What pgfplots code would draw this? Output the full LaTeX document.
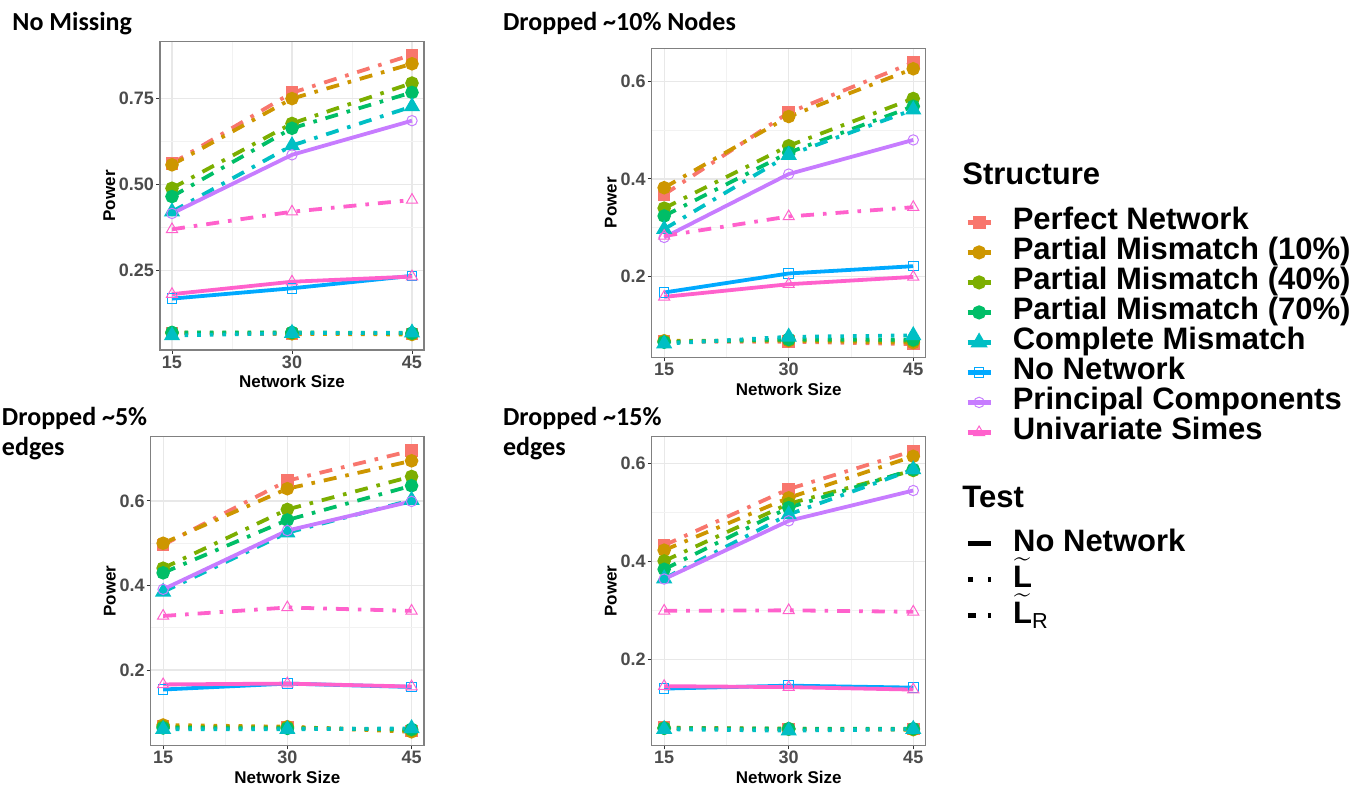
\documentclass[border=0pt]{standalone}
\usepackage{pgfplots}
\pgfplotsset{compat=1.18}
\usepackage{amsmath}
\usepackage{fontspec}
\setmainfont{Liberation Sans}
\newfontfamily\titlefont{Carlito}

\definecolor{cPN}{HTML}{F8766D}
\definecolor{cPA}{HTML}{CD9600}
\definecolor{cPB}{HTML}{7CAE00}
\definecolor{cPC7}{HTML}{00BE67}
\definecolor{cCM}{HTML}{00BFC4}
\definecolor{cNN}{HTML}{00A9FF}
\definecolor{cPCA}{HTML}{C77CFF}
\definecolor{cUS}{HTML}{FF61CC}

\pgfplotsset{
  panel/.style={
    scale only axis, anchor=north west,
    xmin=13.5, xmax=46.5,
    xtick={15,30,45}, xticklabels={15,30,45},
    minor x tick num=1, minor y tick num=1,
    grid=both,
    major grid style={color=black!9, line width=0.6pt},
    minor grid style={color=black!5, line width=0.4pt},
    axis line style={black!50, line width=0.6pt},
    tick align=outside, tick pos=left,
    major tick length=2pt, minor tick length=0pt,
    tick style={black!80, line width=0.5pt},
    tick label style={font=\fontsize{9}{10}\selectfont\bfseries, text=black!70},
    xticklabel style={yshift=2.5pt},
    yticklabel style={xshift=2.5pt},
    label style={font=\fontsize{8.5}{10}\selectfont\bfseries},
    xlabel style={yshift=3.5pt},
    ylabel style={yshift=-5pt},
    xlabel={Network Size}, ylabel={Power},
    /pgf/number format/assume math mode=true,
    clip=false,
  },
  % structures
  sPN/.style={cPN, mark=square*, mark size=2.2pt, mark options={solid}},
  sPA/.style={cPA, mark=*, mark size=2.4pt, mark options={solid}},
  sPB/.style={cPB, mark=*, mark size=2.4pt, mark options={solid}},
  sPC/.style={cPC7, mark=*, mark size=2.4pt, mark options={solid}},
  sCM/.style={cCM, mark=triangle*, mark size=2.8pt, mark options={solid}},
  sNN/.style={cNN, mark=square, mark size=2.4pt, mark options={solid, line width=0.5pt}},
  sPCA/.style={cPCA, mark=o, mark size=2.6pt, mark options={solid, line width=0.5pt}},
  sUS/.style={cUS, mark=triangle, mark size=3.2pt, mark options={solid, line width=0.5pt}},
  % tests
  tN/.style={solid, line width=1.9pt},
  tL/.style={line width=1.9pt, dash pattern=on 1.8pt off 4.5pt},
  tR/.style={line width=1.9pt, dash pattern=on 6.5pt off 4.5pt on 1.8pt off 4.5pt},
}

\begin{document}
\begin{tikzpicture}
\useasboundingbox (0,0) rectangle (682pt,-392pt);

% panel titles
\begin{scope}[every node/.style={anchor=base west, inner sep=0pt, font=\titlefont\bfseries\fontsize{13}{15}\selectfont}]
\node at (6pt,-15.35pt) {No Missing};
\node at (251.35pt,-15.35pt) {Dropped \textasciitilde 10\% Nodes};
\node at (0.8pt,-212.5pt) {Dropped \textasciitilde 5\%};
\node at (0.8pt,-227.5pt) {edges};
\node at (251.35pt,-212.5pt) {Dropped \textasciitilde 15\%};
\node at (251.35pt,-227.5pt) {edges};
\end{scope}

% ---------- No Missing
\begin{axis}[panel, at={(80pt,-20.85pt)}, width=132pt, height=154.15pt,
  ymin=0.02, ymax=0.914, ytick={0.25,0.5,0.75}, yticklabels={0.25,0.50,0.75}]
\addplot[sPN, tR] coordinates {(15,0.561) (30,0.766) (45,0.876)};
\addplot[sPA, tR] coordinates {(15,0.557) (30,0.749) (45,0.850)};
\addplot[sPB, tR] coordinates {(15,0.489) (30,0.677) (45,0.794)};
\addplot[sPC, tR] coordinates {(15,0.465) (30,0.663) (45,0.767)};
\addplot[sCM, tR] coordinates {(15,0.421) (30,0.613) (45,0.726)};
\addplot[sNN, tN] coordinates {(15,0.169) (30,0.199) (45,0.235)};
\addplot[sPCA, tN] coordinates {(15,0.416) (30,0.586) (45,0.685)};
\addplot[sUS, tR] coordinates {(15,0.370) (30,0.421) (45,0.455)};
\addplot[sUS, tN] coordinates {(15,0.182) (30,0.218) (45,0.233)};
\addplot[sPN, tL] coordinates {(15,0.068) (30,0.066) (45,0.067)};
\addplot[sPA, tL] coordinates {(15,0.070) (30,0.067) (45,0.065)};
\addplot[sPB, tL] coordinates {(15,0.070) (30,0.070) (45,0.068)};
\addplot[sPC, tL] coordinates {(15,0.071) (30,0.071) (45,0.069)};
\addplot[sCM, tL] coordinates {(15,0.062) (30,0.069) (45,0.070)};
\end{axis}

% ---------- Dropped ~10% Nodes
\begin{axis}[panel, at={(325.85pt,-24.15pt)}, width=137pt, height=154.5pt,
  ymin=0.034, ymax=0.668, ytick={0.2,0.4,0.6}, yticklabels={0.2,0.4,0.6}]
\addplot[sPN, tR] coordinates {(15,0.368) (30,0.536) (45,0.639)};
\addplot[sPA, tR] coordinates {(15,0.382) (30,0.528) (45,0.626)};
\addplot[sPB, tR] coordinates {(15,0.340) (30,0.468) (45,0.565)};
\addplot[sPC, tR] coordinates {(15,0.324) (30,0.454) (45,0.549)};
\addplot[sCM, tR] coordinates {(15,0.297) (30,0.449) (45,0.542)};
\addplot[sNN, tN] coordinates {(15,0.167) (30,0.206) (45,0.221)};
\addplot[sPCA, tN] coordinates {(15,0.280) (30,0.410) (45,0.480)};
\addplot[sUS, tR] coordinates {(15,0.283) (30,0.323) (45,0.342)};
\addplot[sUS, tN] coordinates {(15,0.158) (30,0.184) (45,0.199)};
\addplot[sPN, tL] coordinates {(15,0.066) (30,0.066) (45,0.061)};
\addplot[sPA, tL] coordinates {(15,0.068) (30,0.068) (45,0.064)};
\addplot[sPB, tL] coordinates {(15,0.066) (30,0.070) (45,0.068)};
\addplot[sPC, tL] coordinates {(15,0.065) (30,0.071) (45,0.070)};
\addplot[sCM, tL] coordinates {(15,0.062) (30,0.076) (45,0.079)};
\end{axis}

% ---------- Dropped ~5% edges
\begin{axis}[panel, at={(75.35pt,-218.35pt)}, width=136.65pt, height=154.3pt,
  ymin=0.022, ymax=0.752, ytick={0.2,0.4,0.6}, yticklabels={0.2,0.4,0.6}]
\addplot[sPN, tR] coordinates {(15,0.496) (30,0.648) (45,0.719)};
\addplot[sPA, tR] coordinates {(15,0.500) (30,0.629) (45,0.695)};
\addplot[sPB, tR] coordinates {(15,0.441) (30,0.580) (45,0.658)};
\addplot[sPC, tR] coordinates {(15,0.430) (30,0.555) (45,0.636)};
\addplot[sCM, tR] coordinates {(15,0.385) (30,0.525) (45,0.602)};
\addplot[sNN, tN] coordinates {(15,0.154) (30,0.168) (45,0.160)};
\addplot[sPCA, tN] coordinates {(15,0.391) (30,0.530) (45,0.599)};
\addplot[sUS, tR] coordinates {(15,0.328) (30,0.348) (45,0.340)};
\addplot[sUS, tN] coordinates {(15,0.166) (30,0.168) (45,0.161)};
\addplot[sPN, tL] coordinates {(15,0.066) (30,0.065) (45,0.056)};
\addplot[sPA, tL] coordinates {(15,0.070) (30,0.066) (45,0.054)};
\addplot[sPB, tL] coordinates {(15,0.066) (30,0.064) (45,0.058)};
\addplot[sPC, tL] coordinates {(15,0.063) (30,0.062) (45,0.060)};
\addplot[sCM, tL] coordinates {(15,0.060) (30,0.060) (45,0.062)};
\end{axis}

% ---------- Dropped ~15% edges
\begin{axis}[panel, at={(325.85pt,-218.35pt)}, width=137pt, height=154.3pt,
  ymin=0.024, ymax=0.655, ytick={0.2,0.4,0.6}, yticklabels={0.2,0.4,0.6}]
\addplot[sPN, tR] coordinates {(15,0.433) (30,0.548) (45,0.626)};
\addplot[sPA, tR] coordinates {(15,0.423) (30,0.530) (45,0.615)};
\addplot[sPB, tR] coordinates {(15,0.401) (30,0.518) (45,0.586)};
\addplot[sPC, tR] coordinates {(15,0.384) (30,0.510) (45,0.588)};
\addplot[sCM, tR] coordinates {(15,0.365) (30,0.496) (45,0.588)};
\addplot[sNN, tN] coordinates {(15,0.140) (30,0.146) (45,0.142)};
\addplot[sPCA, tN] coordinates {(15,0.364) (30,0.483) (45,0.545)};
\addplot[sUS, tR] coordinates {(15,0.299) (30,0.300) (45,0.297)};
\addplot[sUS, tN] coordinates {(15,0.145) (30,0.143) (45,0.138)};
\addplot[sPN, tL] coordinates {(15,0.060) (30,0.057) (45,0.057)};
\addplot[sPA, tL] coordinates {(15,0.060) (30,0.058) (45,0.056)};
\addplot[sPB, tL] coordinates {(15,0.059) (30,0.057) (45,0.057)};
\addplot[sPC, tL] coordinates {(15,0.059) (30,0.058) (45,0.058)};
\addplot[sCM, tL] coordinates {(15,0.057) (30,0.054) (45,0.057)};
\end{axis}

% ---------- legends
\begin{scope}[every node/.style={anchor=base west, inner sep=0pt, font=\fontsize{15.5}{15}\selectfont\bfseries}]
\node at (481pt,-92pt) {Structure};
\node at (481pt,-253.5pt) {Test};
\end{scope}

\begin{axis}[at={(482.5pt,-103.5pt)}, anchor=north west, scale only axis,
  width=5pt, height=5pt, hide axis, xmin=0, xmax=1, ymin=0, ymax=1,
  legend cell align=left,
  legend image code/.code={\draw[mark repeat=2, mark phase=2, #1] plot coordinates {(0pt,0pt) (5.75pt,0pt) (11.5pt,0pt)};},
  legend style={at={(0,1)}, anchor=north west, draw=none, fill=none,
    inner sep=0pt, row sep=0pt, column sep=10pt,
    font=\fontsize{15.5}{15}\selectfont\bfseries,
    nodes={inner sep=0pt, text height=11pt, text depth=4pt}}]
\addlegendimage{sPN, line width=2.2pt}
\addlegendentry{Perfect Network}
\addlegendimage{sPA, line width=2.2pt}
\addlegendentry{Partial Mismatch (10\%)}
\addlegendimage{sPB, line width=2.2pt}
\addlegendentry{Partial Mismatch (40\%)}
\addlegendimage{sPC, line width=2.2pt}
\addlegendentry{Partial Mismatch (70\%)}
\addlegendimage{sCM, line width=2.2pt}
\addlegendentry{Complete Mismatch}
\addlegendimage{sNN, line width=2.2pt}
\addlegendentry{No Network}
\addlegendimage{sPCA, line width=2.2pt}
\addlegendentry{Principal Components}
\addlegendimage{sUS, line width=2.2pt}
\addlegendentry{Univariate Simes}
\end{axis}

\begin{axis}[at={(482.5pt,-262.5pt)}, anchor=north west, scale only axis,
  width=5pt, height=5pt, hide axis, xmin=0, xmax=1, ymin=0, ymax=1,
  legend cell align=left,
  legend image code/.code={\draw[#1] (0pt,0pt) -- (11.5pt,0pt);},
  legend style={at={(0,1)}, anchor=north west, draw=none, fill=none,
    inner sep=0pt, row sep=0pt, column sep=10pt,
    font=\fontsize{15.5}{15}\selectfont\bfseries,
    nodes={inner sep=0pt, text height=13pt, text depth=5pt}}]
\addlegendimage{black, line width=2.4pt, solid}
\addlegendentry{No Network}
\addlegendimage{black, line width=2.4pt, dash pattern=on 2.4pt off 7.6pt}
\addlegendentry{$\widetilde{\text{\bfseries L}}$}
\addlegendimage{black, line width=2.4pt, dash pattern=on 4pt off 6pt on 1.5pt off 6pt}
\addlegendentry{$\widetilde{\text{\bfseries L}}_{\text{\mdseries R}}$}
\end{axis}
\end{tikzpicture}
\end{document}
